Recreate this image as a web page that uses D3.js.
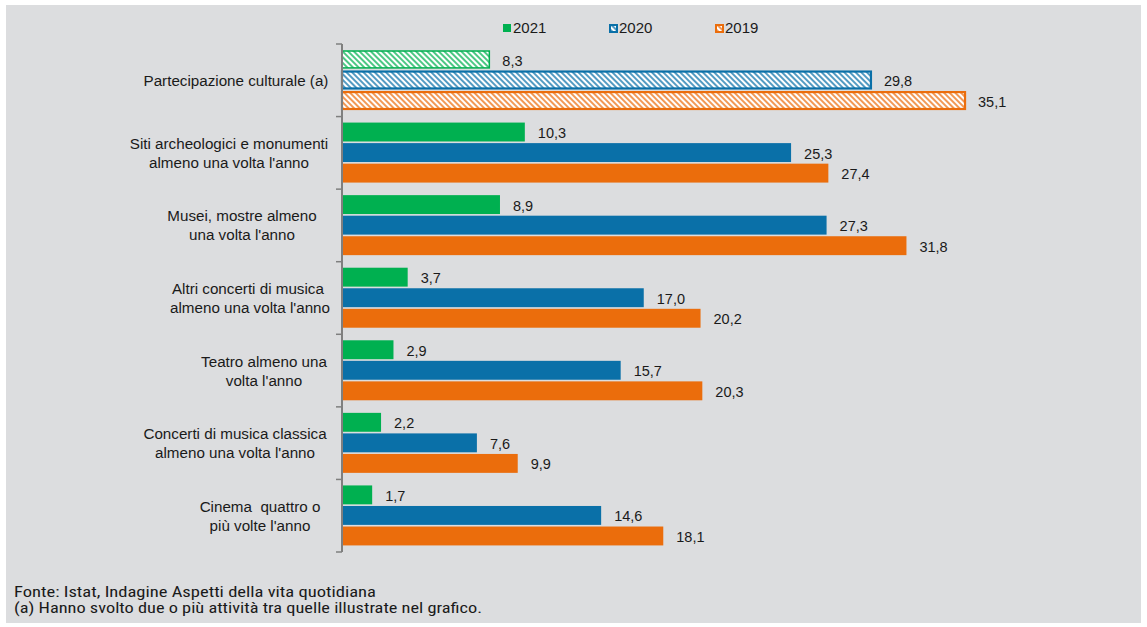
<!DOCTYPE html>
<html>
<head>
<meta charset="utf-8">
<script src="https://cdn.jsdelivr.net/npm/d3@7"></script>
<style>
  html, body { margin: 0; padding: 0; background: #fff; }
  svg { display: block; font-family: "Liberation Sans", Arial, sans-serif; }
</style>
</head>
<body>
<svg id="chart"></svg>
<script>
const categories = [
  "Partecipazione culturale (a)",
  "Siti archeologici e monumenti\nalmeno una volta l'anno",
  "Musei, mostre almeno\nuna volta l'anno",
  "Altri concerti di musica \nalmeno una volta l'anno",
  "Teatro almeno una\nvolta l'anno",
  "Concerti di musica classica\nalmeno una volta l'anno",
  "Cinema  quattro o\npiù volte l'anno"
];
const years = ["2021", "2020", "2019"];
const values2021 = [8.3, 10.3, 8.9, 3.7, 2.9, 2.2, 1.7];
const values2020 = [29.8, 25.3, 27.3, 17.0, 15.7, 7.6, 14.6];
const values2019 = [35.1, 27.4, 31.8, 20.2, 20.3, 9.9, 18.1];
const footnotes = [
  "Fonte: Istat, Indagine Aspetti della vita quotidiana",
  "(a) Hanno svolto due o più attività tra quelle illustrate nel grafico."
];

const width = 1147;
const height = 627;
const bg = "#dcdddf";
const colors = { "2021": "#00b050", "2020": "#0a70a8", "2019": "#eb6d0c" };
// label block centres
const labelCx = [236, 229, 242, 250, 264, 235, 260];

const series = { "2021": values2021, "2020": values2020, "2019": values2019 };
const rows = categories.map((c, i) => ({
  cat: c,
  i,
  vals: years.map((y) => ({ year: y, value: series[y][i], hatched: i === 0 }))
}));

const svg = d3.select("#chart")
  .attr("width", width)
  .attr("height", height)
  .attr("viewBox", `0 0 ${width} ${height}`);

svg.append("rect")
  .attr("x", 6).attr("y", 5)
  .attr("width", width - 12).attr("height", height - 9)
  .attr("fill", bg);

const defs = svg.append("defs");
years.forEach((y) => {
  const p = defs.append("pattern")
    .attr("id", "hatch" + y)
    .attr("patternUnits", "userSpaceOnUse")
    .attr("width", 4).attr("height", 4)
    .attr("patternTransform", "rotate(-45)");
  p.append("rect").attr("width", 4).attr("height", 4).attr("fill", "#fff");
  p.append("line")
    .attr("x1", 1).attr("y1", 0).attr("x2", 1).attr("y2", 4)
    .attr("stroke", colors[y]).attr("stroke-width", 1.4);
});

const x = d3.scaleLinear().domain([0, 40]).range([342, 342 + 40 * 17.75]);
const y0 = d3.scaleBand().domain(d3.range(categories.length)).range([44, 552]);
const y1 = d3.scaleBand().domain(years).range([6, 66]).paddingInner(0.08);

const it = d3.formatLocale({ decimal: ",", thousands: ".", grouping: [3], currency: ["", "€"] });
const fmt = it.format(".1f");

const groups = svg.append("g").selectAll("g")
  .data(rows)
  .join("g")
  .attr("transform", (d) => `translate(0,${y0(d.i)})`);

groups.selectAll("rect")
  .data((d) => d.vals)
  .join("rect")
  .attr("x", x(0))
  .attr("y", (d) => y1(d.year) + (d.hatched ? 1 : 0))
  .attr("width", (d) => x(d.value) - x(0))
  .attr("height", (d) => y1.bandwidth() - (d.hatched ? 2 : 0))
  .attr("fill", (d) => d.hatched ? `url(#hatch${d.year})` : colors[d.year])
  .attr("stroke", (d) => d.hatched ? colors[d.year] : "none")
  .attr("stroke-width", (d) => d.year === "2021" ? 1.5 : 2.2);

groups.selectAll("text.val")
  .data((d) => d.vals)
  .join("text")
  .attr("class", "val")
  .attr("x", (d) => x(d.value) + 13)
  .attr("y", (d) => y1(d.year) + y1.bandwidth() / 2 + 1)
  .attr("dy", "0.35em")
  .attr("font-size", 14.5)
  .attr("fill", "#1a1a1a")
  .text((d) => fmt(d.value));

// category labels
groups.append("text")
  .attr("text-anchor", "middle")
  .attr("font-size", 15.2)
  .attr("fill", "#1a1a1a")
  .attr("xml:space", "preserve")
  .each(function (d) {
    const lines = d.cat.split("\n");
    const t = d3.select(this);
    const cy = 36.5;
    lines.forEach((ln, k) => {
      t.append("tspan")
        .attr("x", labelCx[d.i])
        .attr("y", cy + (k - (lines.length - 1) / 2) * 19)
        .attr("dy", "0.35em")
        .text(ln);
    });
  });

// axis
const axisG = svg.append("g");
axisG.append("line")
  .attr("x1", x(0)).attr("x2", x(0))
  .attr("y1", y0.range()[0]).attr("y2", y0.range()[1])
  .attr("stroke", "#7f7f7f").attr("stroke-width", 2);
axisG.selectAll("line.tick")
  .data(d3.range(categories.length + 1))
  .join("line")
  .attr("class", "tick")
  .attr("x1", x(0) - 6).attr("x2", x(0))
  .attr("y1", (d) => y0.range()[0] + d * y0.step())
  .attr("y2", (d) => y0.range()[0] + d * y0.step())
  .attr("stroke", "#7f7f7f").attr("stroke-width", 1.5);

// legend
const legendX = d3.scalePoint().domain(years).range([503, 715]);
const leg = svg.append("g").selectAll("g")
  .data(years)
  .join("g")
  .attr("transform", (d) => `translate(${legendX(d)},24)`);
leg.append("rect")
  .attr("x", (d) => d === "2021" ? 0 : 1)
  .attr("y", (d) => d === "2021" ? 0 : 1)
  .attr("width", (d) => d === "2021" ? 8 : 7)
  .attr("height", (d) => d === "2021" ? 8 : 7)
  .attr("fill", (d) => d === "2021" ? colors[d] : `url(#hatch${d})`)
  .attr("stroke", (d) => d === "2021" ? "none" : colors[d])
  .attr("stroke-width", 2);
leg.append("text")
  .attr("x", 10).attr("y", 4)
  .attr("dy", "0.35em")
  .attr("font-size", 15)
  .attr("fill", "#1a1a1a")
  .text((d) => d);

// footnotes
const foot = svg.append("g")
  .attr("font-family", "'Liberation Sans Narrow', 'Roboto Condensed', 'Liberation Sans', sans-serif")
  .attr("font-size", 15)
  .attr("fill", "#1a1a1a");
const footW = [362, 468];
foot.selectAll("text")
  .data(footnotes)
  .join("text")
  .attr("x", 14)
  .attr("y", (d, i) => 597 + i * 16)
  .attr("textLength", (d, i) => footW[i])
  .attr("lengthAdjust", "spacingAndGlyphs")
  .text((d) => d);
</script>
</body>
</html>
